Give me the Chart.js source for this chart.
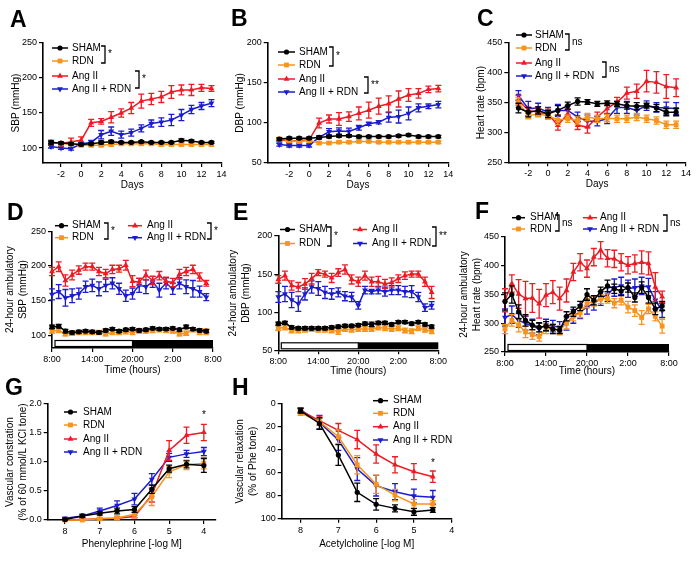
<!DOCTYPE html>
<html>
<head>
<meta charset="utf-8">
<script src="https://cdn.jsdelivr.net/npm/chart.js@4.4.1/dist/chart.umd.min.js"></script>
<style>
  body { margin: 0; background: #fff; width: 700px; height: 562px; position: relative; overflow: hidden; }
  canvas { position: absolute; left: 0; top: 0; }
</style>
</head>
<body>
<canvas id="cA" width="700" height="562"></canvas>
<canvas id="cB" width="700" height="562"></canvas>
<canvas id="cC" width="700" height="562"></canvas>
<canvas id="cD" width="700" height="562"></canvas>
<canvas id="cE" width="700" height="562"></canvas>
<canvas id="cF" width="700" height="562"></canvas>
<canvas id="cG" width="700" height="562"></canvas>
<canvas id="cH" width="700" height="562"></canvas>
<script>
const seriesNames = ['SHAM', 'RDN', 'Ang II', 'Ang II + RDN'];

// A-C: days
const days = [-3, -2, -1, 0, 1, 2, 3, 4, 5, 6, 7, 8, 9, 10, 11, 12, 13];
const dayTicks = [-2, 0, 2, 4, 6, 8, 10, 12, 14];

const sbpTicks = [100, 150, 200, 250];
const sbpSham = [108, 107, 106, 105, 106, 108, 109, 108, 108, 109, 108, 108, 108, 111, 110, 108, 108];
const sbpShamErr = [2, 1.5, 1.5, 1.5, 1.5, 2, 2, 1.5, 1.5, 1.5, 1.5, 1.5, 1.5, 2, 1.5, 1.5, 1.5];
const sbpRdn = [109, 106, 106, 104, 104, 104, 105, 106, 106, 106, 106, 105, 105, 105, 105, 105, 105];
const sbpRdnErr = [2, 2, 2, 2, 2, 2, 2, 2, 2, 2, 2, 2, 2, 2, 2, 2, 2];
const sbpAng = [108, 106, 109, 111, 136, 138, 144, 150, 157, 167, 170, 173, 180, 183, 183, 186, 185];
const sbpAngErr = [3, 3, 5, 5, 5, 4, 8, 6, 8, 10, 8, 8, 9, 7, 8, 5, 4];
const sbpAngRdn = [102, 100, 99, 106, 108, 119, 124, 119, 122, 128, 135, 137, 140, 147, 155, 160, 164];
const sbpAngRdnErr = [2, 2, 2, 2, 3, 6, 6, 5, 5, 5, 5, 6, 8, 8, 6, 5, 5];

const dbpTicks = [50, 100, 150, 200];
const dbpSham = [80, 81, 81, 81, 82, 83, 84, 84, 83, 83, 83, 83, 84, 85, 83, 83, 83];
const dbpShamErr = [1.5, 1.5, 1.5, 1.5, 1.5, 1.5, 1.5, 1.5, 1.5, 1.5, 1.5, 1.5, 1.5, 1.5, 1.5, 1.5, 1.5];
const dbpRdn = [80, 78, 77, 78, 75, 75, 76, 76, 77, 77, 76, 76, 76, 76, 76, 76, 76];
const dbpRdnErr = [1.5, 1.5, 1.5, 1.5, 1.5, 1.5, 1.5, 1.5, 1.5, 1.5, 1.5, 1.5, 1.5, 1.5, 1.5, 1.5, 1.5];
const dbpAng = [79, 77.5, 78, 79, 100, 105, 105, 108, 112, 116, 121, 124, 130, 135, 137, 142, 143];
const dbpAngErr = [2, 2, 2, 2, 6, 5, 8, 6, 8, 10, 10, 10, 10, 8, 6, 4, 4];
const dbpAngRdn = [73, 72, 72, 72, 82, 89, 90, 89.5, 94, 99, 101, 107, 108, 112, 119, 121, 123];
const dbpAngRdnErr = [2, 2, 2, 2, 2, 4, 4, 4, 3, 2, 2, 6, 8, 8, 5, 3, 4];

const hrTicks = [250, 300, 350, 400, 450];
const hrSham = [341, 334, 337, 331, 337, 345, 352, 351, 348, 349, 348, 345, 344, 345, 341, 334, 334];
const hrShamErr = [8, 8, 6, 6, 8, 6, 6, 4, 4, 4, 4, 6, 6, 4, 6, 6, 6];
const hrRdn = [350, 328, 331, 328, 321, 323, 320, 326, 323, 324, 323, 323, 326, 323, 320, 313, 313];
const hrRdnErr = [8, 5, 5, 5, 8, 6, 6, 6, 6, 6, 6, 6, 6, 6, 6, 6, 6];
const hrAng = [354, 337, 334, 331, 312, 331, 312, 309, 326, 340, 351, 366, 369, 386, 384, 377, 375];
const hrAngErr = [8, 5, 6, 8, 8, 8, 7, 10, 8, 8, 8, 10, 12, 18, 18, 20, 15];
const hrAngRdn = [362, 340, 341, 334, 337, 337, 326, 319, 319, 323, 342, 342, 337, 345, 342, 341, 340];
const hrAngRdnErr = [8, 12, 8, 8, 10, 8, 8, 10, 8, 8, 10, 10, 8, 8, 8, 10, 10];

// D-F: 24-hour ambulatory, hours after 8:00
const hours = [0, 1, 2, 3, 4, 5, 6, 7, 8, 9, 10, 11, 12, 13, 14, 15, 16, 17, 18, 19, 20, 21, 22, 23];
const hourTicks = [0, 6, 12, 18, 24];
const hourLabels = ['8:00', '14:00', '20:00', '2:00', '8:00'];

const ambSbpSham = [112, 113, 106, 104, 105, 106, 105, 104, 107, 109, 106, 108, 109, 107, 108, 110, 109, 109, 110, 108, 112, 109, 107, 106];
const ambSbpShamErr = [2.5, 2.5, 2.5, 2, 2, 2, 2, 2, 2, 2, 2, 2, 2, 2, 2, 2, 2, 2, 2, 2, 2.5, 2, 2, 2];
const ambSbpRdn = [106, 107, 102, 103, 104, 104, 104, 104, 102, 104, 104, 105, 104, 106, 106, 107, 108, 107, 106, 102, 103, 108, 105, 105];
const ambSbpRdnErr = [3, 3, 3, 3, 3, 3, 3, 3, 3, 3, 3, 3, 3, 3, 3, 3, 3, 3, 3, 3, 3, 3, 4, 4];
const ambSbpAng = [192, 199, 179, 187, 194, 199, 199, 192, 189, 195, 196, 201, 178, 177, 187, 179, 186, 178, 176, 188, 192, 195, 184, 175];
const ambSbpAngErr = [6, 7, 8, 7, 6, 5, 5, 6, 6, 6, 5, 7, 8, 5, 7, 6, 6, 6, 6, 7, 6, 6, 6, 4];
const ambSbpAngRdn = [159, 163, 154, 157, 160, 170, 172, 167, 172, 175, 167, 157, 160, 172, 170, 177, 165, 175, 167, 175, 170, 167, 163, 155];
const ambSbpAngRdnErr = [8, 10, 12, 10, 8, 8, 9, 10, 9, 8, 8, 8, 8, 10, 10, 8, 10, 8, 8, 8, 10, 12, 8, 5];

const ambDbpSham = [85, 86, 80, 79, 79, 79, 79, 79, 80, 81, 82, 82, 83, 85, 84, 86, 86, 84, 87, 87, 85, 87, 84, 81];
const ambDbpShamErr = [2, 2, 2, 2, 2, 2, 2, 2, 2, 2, 2, 2, 2, 2, 3, 2, 2, 2, 2, 2, 2, 2, 2, 2];
const ambDbpRdn = [79, 80, 76, 76, 77, 78, 77, 77, 76, 75, 78, 77, 78, 78, 78, 80, 79, 78, 79, 76, 75, 79, 77, 75];
const ambDbpRdnErr = [3, 3, 3, 3, 3, 3, 3, 3, 3, 4, 3, 3, 3, 3, 3, 3, 3, 3, 3, 3, 3, 3, 3, 3];
const ambDbpAng = [143, 148, 135, 133, 137, 144, 152, 150, 145, 152, 156, 143, 140, 148, 140, 140, 137, 139, 144, 148, 150, 150, 140, 126];
const ambDbpAngErr = [5, 6, 6, 6, 7, 7, 4, 4, 6, 5, 6, 6, 6, 6, 6, 7, 6, 6, 5, 5, 4, 4, 6, 8];
const ambDbpAngRdn = [120, 124, 116, 111, 124, 133, 131, 126, 124, 126, 121, 120, 109, 129, 127, 129, 127, 129, 129, 127, 127, 120, 106, 109];
const ambDbpAngRdnErr = [7, 10, 10, 10, 8, 8, 9, 8, 7, 6, 6, 6, 5, 5, 3, 5, 6, 6, 6, 7, 8, 6, 5, 5];

const ambHrSham = [338, 350, 320, 305, 297, 293, 295, 290, 288, 312, 320, 330, 350, 340, 355, 365, 360, 356, 362, 345, 362, 345, 325, 330];
const ambHrShamErr = [15, 15, 12, 10, 8, 8, 8, 8, 6, 8, 8, 8, 10, 8, 8, 10, 8, 8, 8, 8, 10, 10, 10, 8];
const ambHrRdn = [290, 305, 297, 285, 280, 277, 290, 290, 288, 300, 312, 318, 335, 338, 342, 343, 335, 340, 328, 322, 310, 325, 312, 295];
const ambHrRdnErr = [8, 10, 12, 10, 8, 8, 8, 8, 8, 10, 8, 8, 8, 8, 8, 8, 8, 8, 10, 10, 12, 8, 8, 12];
const ambHrAng = [340, 369, 351, 343, 344, 334, 349, 354, 343, 357, 389, 406, 395, 415, 427, 413, 412, 406, 401, 404, 406, 404, 363, 346];
const ambHrAngErr = [20, 15, 25, 30, 25, 25, 20, 20, 20, 20, 15, 15, 15, 15, 15, 15, 15, 15, 15, 15, 20, 20, 25, 10];
const ambHrAngRdn = [310, 315, 305, 300, 295, 290, 297, 295, 293, 300, 312, 320, 328, 335, 343, 350, 362, 365, 360, 362, 365, 363, 340, 322];
const ambHrAngRdnErr = [15, 15, 12, 12, 12, 10, 10, 10, 10, 12, 12, 12, 12, 12, 12, 12, 15, 15, 15, 15, 15, 15, 15, 12];

// G-H: concentration response
const logTicks = [8, 7, 6, 5, 4];
const pheConc = [8, 7.5, 7, 6.5, 6, 5.5, 5, 4.5, 4];
const conTicks = [0, 0.5, 1, 1.5, 2];
const conSham = [0.01, 0.07, 0.115, 0.155, 0.18, 0.53, 0.885, 0.96, 0.94];
const conShamErr = [0.01, 0.02, 0.03, 0.05, 0.05, 0.07, 0.06, 0.06, 0.12];
const conRdn = [0, 0, 0.02, 0.035, 0.1, 0.4, 0.83, 0.95, 0.98];
const conRdnErr = [0.005, 0.01, 0.02, 0.03, 0.06, 0.15, 0.1, 0.08, 0.1];
const conAng = [0, 0.01, 0.02, 0.03, 0.06, 0.43, 1.2, 1.46, 1.51];
const conAngErr = [0.01, 0.01, 0.01, 0.02, 0.02, 0.12, 0.17, 0.14, 0.14];
const conAngRdn = [0.03, 0.07, 0.155, 0.25, 0.36, 0.7, 1.08, 1.14, 1.18];
const conAngRdnErr = [0.01, 0.03, 0.05, 0.08, 0.1, 0.1, 0.07, 0.06, 0.07];

const achConc = [8, 7.5, 7, 6.5, 6, 5.5, 5, 4.5];
const relTicks = [0, 20, 40, 60, 80, 100];
const relSham = [6, 17, 44.5, 77, 87.5, 91, 94, 92.4];
const relShamErr = [2, 5, 9, 8, 5, 3, 3, 2];
const relRdn = [8, 15.4, 28.5, 53, 70, 79.4, 87.2, 87.2];
const relRdnErr = [2, 3, 6, 8, 8, 5, 4, 3];
const relAng = [5.8, 14.5, 23, 31, 43.6, 53, 59, 63.4];
const relAngErr = [2, 4, 6, 8, 8, 7, 7, 5];
const relAngRdn = [5.2, 16, 31.4, 56.7, 71.2, 76.5, 80.2, 81.4];
const relAngRdnErr = [2, 6, 9, 10, 9, 7, 6, 6];

const FONT = '"Liberation Sans", Arial, sans-serif';
Chart.defaults.font.family = FONT;
Chart.defaults.color = '#000';

const styles = [
  { color: '#000000', pointStyle: 'circle', rotation: 0, radius: 2.6 },
  { color: '#f7941d', pointStyle: 'rect', rotation: 0, radius: 3.4 },
  { color: '#ec1c24', pointStyle: 'triangle', rotation: 0, radius: 3.4 },
  { color: '#1c1ccf', pointStyle: 'triangle', rotation: 180, radius: 3.4 },
];

function marker(ctx, s, x, y) {
  const r = s.radius;
  ctx.fillStyle = s.color;
  ctx.beginPath();
  if (s.pointStyle === 'circle') {
    ctx.arc(x, y, r, 0, Math.PI * 2);
  } else if (s.pointStyle === 'rect') {
    const h = r * Math.SQRT1_2;
    ctx.rect(x - h, y - h, h * 2, h * 2);
  } else {
    const d = s.rotation ? -1 : 1;
    ctx.moveTo(x, y - d * r);
    ctx.lineTo(x + r * 0.866, y + d * r * 0.5);
    ctx.lineTo(x - r * 0.866, y + d * r * 0.5);
    ctx.closePath();
  }
  ctx.fill();
}

const errorBars = {
  id: 'errorBars',
  afterDatasetDraw(chart, args) {
    const ds = chart.data.datasets[args.index];
    if (!ds.err) return;
    const ys = chart.scales.y, ctx = chart.ctx;
    ctx.save();
    ctx.strokeStyle = ds.borderColor;
    ctx.lineWidth = 1.3;
    args.meta.data.forEach((pt, j) => {
      const v = ds.data[j].y, e = ds.err[j];
      const y1 = ys.getPixelForValue(v + e), y2 = ys.getPixelForValue(v - e);
      ctx.beginPath();
      ctx.moveTo(pt.x, y1); ctx.lineTo(pt.x, y2);
      ctx.moveTo(pt.x - 3, y1); ctx.lineTo(pt.x + 3, y1);
      ctx.moveTo(pt.x - 3, y2); ctx.lineTo(pt.x + 3, y2);
      ctx.stroke();
    });
    ctx.restore();
  }
};

const decor = {
  id: 'decor',
  afterDraw(chart, args, o) {
    const ctx = chart.ctx;
    ctx.save();
    if (o.dayBar) {
      const xs = chart.scales.x, b = chart.chartArea.bottom;
      const x0 = xs.getPixelForValue(hourTicks[0]) + 3;
      const x1 = xs.getPixelForValue(hourTicks[2]);
      const x2 = xs.getPixelForValue(hourTicks[4]);
      ctx.fillStyle = '#000';
      ctx.fillRect(x1, b - 8, x2 - x1, 7);
      ctx.strokeStyle = '#000';
      ctx.lineWidth = 1.2;
      ctx.strokeRect(x0, b - 7.5, x1 - x0, 6);
    }
    ctx.fillStyle = '#000';
    ctx.font = 'bold 23px ' + FONT;
    ctx.textBaseline = 'alphabetic';
    ctx.fillText(o.letter[0], o.letter[1], o.letter[2]);

    ctx.font = '10px ' + FONT;
    ctx.textBaseline = 'middle';
    o.legend.forEach(([i, x1, x2, y, tx]) => {
      const s = styles[i];
      ctx.strokeStyle = s.color;
      ctx.lineWidth = 1.5;
      ctx.beginPath(); ctx.moveTo(x1, y); ctx.lineTo(x2, y); ctx.stroke();
      marker(ctx, s, (x1 + x2) / 2, y);
      ctx.fillStyle = '#000';
      ctx.fillText(seriesNames[i], tx, y);
    });

    (o.brackets || []).forEach(([x, y1, y2, t]) => {
      ctx.strokeStyle = '#000';
      ctx.lineWidth = 1.3;
      ctx.beginPath();
      ctx.moveTo(x - 4, y1); ctx.lineTo(x, y1); ctx.lineTo(x, y2); ctx.lineTo(x - 4, y2);
      ctx.stroke();
      ctx.fillStyle = '#000';
      ctx.fillText(t, x + 3, (y1 + y2) / 2);
    });
    (o.marks || []).forEach(([x, y, t]) => {
      ctx.textAlign = 'center';
      ctx.fillText(t, x, y);
      ctx.textAlign = 'left';
    });
    ctx.restore();
  }
};

function makePanel(p) {
  const [l, t, r, b] = p.area;
  const datasets = p.series.map((s, i) => ({
    label: seriesNames[i],
    data: p.x.map((xv, j) => ({ x: xv, y: s[0][j] })),
    err: s[1],
    borderColor: styles[i].color,
    backgroundColor: styles[i].color,
    pointStyle: styles[i].pointStyle,
    rotation: styles[i].rotation,
    pointRadius: styles[i].radius,
    pointBorderWidth: 0,
    borderWidth: 1.5,
    tension: 0,
    clip: false,
  }));
  const axis = (ticks, fmt) => ({
    type: 'linear',
    bounds: 'data',
    grid: { drawOnChartArea: false, drawTicks: true, tickLength: 4, color: '#000', lineWidth: 1.2 },
    border: { display: true, color: '#000', width: 1.6 },
    ticks: { font: { size: 9 }, padding: 2, color: '#000', autoSkip: false, maxRotation: 0, callback: fmt },
    afterBuildTicks: (sc) => { sc.ticks = ticks.map(v => ({ value: v })); },
  });
  const xAxis = axis(p.xTicks, p.xLabels ? (v) => p.xLabels[p.xTicks.indexOf(v)] : (v) => String(v));
  Object.assign(xAxis, {
    min: p.xRange[0], max: p.xRange[1], reverse: !!p.xReverse,
    title: { display: true, text: p.xTitle, font: { size: 10 }, padding: 0 },
    afterFit: (sc) => { sc.height = p.xH; },
  });
  const yAxis = axis(p.yTicks, p.yFmt || ((v) => String(v)));
  Object.assign(yAxis, {
    min: p.yRange[0], max: p.yRange[1], reverse: !!p.yReverse,
    title: { display: true, text: p.yTitle, font: { size: 10, lineHeight: 1.3 }, padding: 0 },
    afterFit: (sc) => { sc.width = p.yW; },
  });
  return new Chart(document.getElementById(p.id), {
    type: 'line',
    data: { datasets },
    options: {
      responsive: false,
      animation: false,
      events: [],
      layout: { padding: { left: l - p.yW, top: t, right: 700 - r, bottom: 562 - b - p.xH } },
      scales: { x: xAxis, y: yAxis },
      plugins: {
        legend: { display: false },
        tooltip: { enabled: false },
        decor: p.decor,
      },
    },
    plugins: [errorBars, decor],
  });
}

makePanel({
  id: 'cA', area: [43, 43, 221.5, 163], yW: 33, xH: 28,
  x: days, xRange: [-3.8, 14], xTicks: dayTicks, xTitle: 'Days',
  yRange: [78.6, 250], yTicks: sbpTicks, yTitle: 'SBP (mmHg)',
  series: [[sbpSham, sbpShamErr], [sbpRdn, sbpRdnErr], [sbpAng, sbpAngErr], [sbpAngRdn, sbpAngRdnErr]],
  decor: {
    letter: ['A', 10, 27],
    legend: [[0, 52, 68, 48, 72], [1, 52, 68, 61, 72], [2, 52, 68, 76, 72], [3, 52, 68, 89, 72]],
    brackets: [[105, 46, 63, '*'], [139, 71, 88, '*']],
  },
});

makePanel({
  id: 'cB', area: [267.7, 43, 448.3, 163], yW: 34, xH: 28,
  x: days, xRange: [-4.17, 14], xTicks: dayTicks, xTitle: 'Days',
  yRange: [50, 200], yTicks: dbpTicks, yTitle: 'DBP (mmHg)',
  series: [[dbpSham, dbpShamErr], [dbpRdn, dbpRdnErr], [dbpAng, dbpAngErr], [dbpAngRdn, dbpAngRdnErr]],
  decor: {
    letter: ['B', 231, 26],
    legend: [[0, 278, 295, 52, 299], [1, 278, 295, 65, 299], [2, 278, 295, 79, 299], [3, 278, 295, 92, 299]],
    brackets: [[333, 47, 66, '*'], [368, 77, 93, '**']],
  },
});

makePanel({
  id: 'cC', area: [508.3, 43, 686, 162.3], yW: 34, xH: 27.7,
  x: days, xRange: [-4.03, 14], xTicks: dayTicks, xTitle: 'Days',
  yRange: [250, 450], yTicks: hrTicks, yTitle: 'Heart rate (bpm)',
  series: [[hrSham, hrShamErr], [hrRdn, hrRdnErr], [hrAng, hrAngErr], [hrAngRdn, hrAngRdnErr]],
  decor: {
    letter: ['C', 477, 26],
    legend: [[0, 516, 532, 35, 535], [1, 516, 532, 48, 535], [2, 516, 532, 63, 535], [3, 516, 532, 76, 535]],
    brackets: [[569, 34, 50, 'ns'], [606, 62, 77, 'ns']],
  },
});

makePanel({
  id: 'cD', area: [52, 231.3, 213, 348], yW: 48.5, xH: 28,
  x: hours, xRange: [0, 24], xTicks: hourTicks, xLabels: hourLabels, xTitle: 'Time (hours)',
  yRange: [81.6, 250], yTicks: sbpTicks, yTitle: ['24-hour ambulatory', 'SBP (mmHg)'],
  series: [[ambSbpSham, ambSbpShamErr], [ambSbpRdn, ambSbpRdnErr], [ambSbpAng, ambSbpAngErr], [ambSbpAngRdn, ambSbpAngRdnErr]],
  decor: {
    dayBar: true,
    letter: ['D', 7, 220],
    legend: [[0, 55, 68, 225.7, 72], [1, 55, 68, 237.7, 72], [2, 128, 142, 225.7, 147], [3, 128, 142, 237.7, 147]],
    brackets: [[108, 223, 239, '*'], [211, 223, 239, '*']],
  },
});

makePanel({
  id: 'cE', area: [278.3, 236, 438.3, 350.3], yW: 51.8, xH: 27.4,
  x: hours, xRange: [0, 24], xTicks: hourTicks, xLabels: hourLabels, xTitle: 'Time (hours)',
  yRange: [50, 200], yTicks: dbpTicks, yTitle: ['24-hour ambulatory', 'DBP (mmHg)'],
  series: [[ambDbpSham, ambDbpShamErr], [ambDbpRdn, ambDbpRdnErr], [ambDbpAng, ambDbpAngErr], [ambDbpAngRdn, ambDbpAngRdnErr]],
  decor: {
    dayBar: true,
    letter: ['E', 233, 220],
    legend: [[0, 280, 295, 229.5, 299], [1, 280, 295, 243.5, 299], [2, 353, 367, 229.5, 372], [3, 353, 367, 243.5, 372]],
    brackets: [[331, 227, 246, '*'], [436, 227, 246, '**']],
  },
});

makePanel({
  id: 'cF', area: [505, 237, 669, 352], yW: 47.5, xH: 25.7,
  x: hours, xRange: [0, 24], xTicks: hourTicks, xLabels: hourLabels, xTitle: 'Time (hours)',
  yRange: [250, 450], yTicks: hrTicks, yTitle: ['24-hour ambulatory', 'Heart rate (bpm)'],
  series: [[ambHrSham, ambHrShamErr], [ambHrRdn, ambHrRdnErr], [ambHrAng, ambHrAngErr], [ambHrAngRdn, ambHrAngRdnErr]],
  decor: {
    dayBar: true,
    letter: ['F', 475, 219],
    legend: [[0, 512, 525, 217.7, 530], [1, 512, 525, 229, 530], [2, 583, 597, 217.7, 600], [3, 583, 597, 229, 600]],
    brackets: [[559, 215, 231, 'ns'], [667, 215, 231, 'ns']],
  },
});

makePanel({
  id: 'cG', area: [47.7, 404, 216, 520], yW: 44.2, xH: 30,
  x: pheConc, xRange: [3.65, 8.5], xReverse: true, xTicks: logTicks, xTitle: 'Phenylephrine [-log M]',
  yRange: [0, 2], yTicks: conTicks, yFmt: (v) => v.toFixed(1), yTitle: ['Vascular constration', '(% of 60 mmol/L KCl tone)'],
  series: [[conSham, conShamErr], [conRdn, conRdnErr], [conAng, conAngErr], [conAngRdn, conAngRdnErr]],
  decor: {
    letter: ['G', 5, 395],
    legend: [[0, 64, 77, 412, 83], [1, 64, 77, 425, 83], [2, 64, 77, 439, 83], [3, 64, 77, 452, 83]],
    marks: [[204, 415, '*']],
  },
});

makePanel({
  id: 'cH', area: [281.7, 404, 451.7, 518.7], yW: 48.2, xH: 31.3,
  x: achConc, xRange: [4, 8.5], xReverse: true, xTicks: logTicks, xTitle: 'Acetylcholine [-log M]',
  yRange: [0, 100], yReverse: true, yTicks: relTicks, yTitle: ['Vascular relaxation', '(% of Phe tone)'],
  series: [[relSham, relShamErr], [relRdn, relRdnErr], [relAng, relAngErr], [relAngRdn, relAngRdnErr]],
  decor: {
    letter: ['H', 232, 395],
    legend: [[0, 373, 388, 400.7, 393], [1, 373, 388, 413.3, 393], [2, 373, 388, 426.7, 393], [3, 373, 388, 440, 393]],
    marks: [[433, 463, '*']],
  },
});
</script>
</body>
</html>
